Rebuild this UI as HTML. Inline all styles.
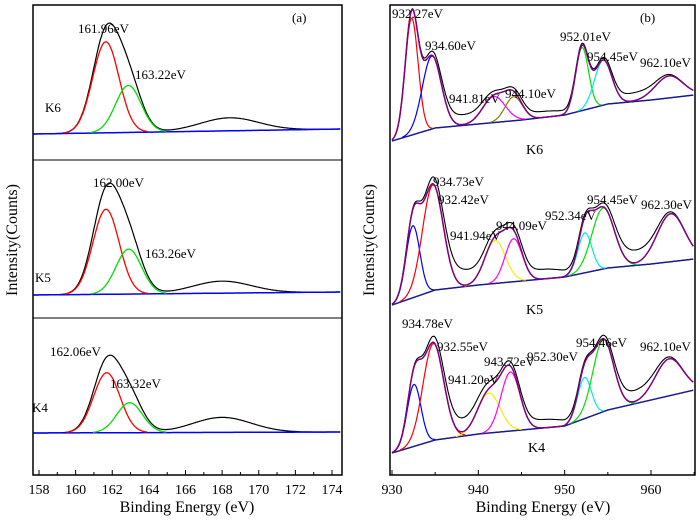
<!DOCTYPE html>
<html><head><meta charset="utf-8"><style>
body{margin:0;background:#fff}
svg text{font-family:"Liberation Serif",serif;fill:#000}
</style></head><body>
<svg id="c" width="700" height="521" viewBox="0 0 700 521" xmlns="http://www.w3.org/2000/svg">
<rect x="0" y="0" width="700" height="521" fill="#fff"/>
<rect x="33" y="5" width="309" height="470" fill="none" stroke="#000" stroke-width="1.5"/>
<line x1="33" y1="160" x2="342" y2="160" stroke="#000" stroke-width="1"/>
<line x1="33" y1="318" x2="342" y2="318" stroke="#000" stroke-width="1"/>
<rect x="390" y="5" width="305" height="470" fill="none" stroke="#000" stroke-width="1.5"/>
<g id="plot"></g>
<text x="187" y="512" font-size="16" text-anchor="middle">Binding Energy (eV)</text>
<text x="543" y="512" font-size="16" text-anchor="middle">Binding Energy (eV)</text>
<text transform="translate(17,240) rotate(-90)" font-size="16" text-anchor="middle">Intensity(Counts)</text>
<text transform="translate(374,240) rotate(-90)" font-size="16" text-anchor="middle">Intensity(Counts)</text>
<text x="292" y="22" font-size="13">(a)</text>
<text x="640" y="22" font-size="13">(b)</text>
<g font-size="13">
<text x="78" y="33">161.96eV</text><text x="135" y="79">163.22eV</text><text x="45" y="112">K6</text>
<text x="93" y="187">162.00eV</text><text x="145" y="258">163.26eV</text><text x="35" y="282">K5</text>
<text x="50" y="356">162.06eV</text><text x="110" y="388">163.32eV</text><text x="32" y="412">K4</text>
<text x="392" y="18">932.27eV</text><text x="425" y="50">934.60eV</text><text x="449" y="103">941.81eV</text><text x="505" y="98">944.10eV</text>
<text x="560" y="41">952.01eV</text><text x="587" y="61">954.45eV</text><text x="640" y="67">962.10eV</text><text x="526" y="154" font-size="14">K6</text>
<text x="433" y="186">934.73eV</text><text x="438" y="204">932.42eV</text><text x="450" y="240">941.94eV</text><text x="496" y="230">944.09eV</text>
<text x="545" y="220">952.34eV</text><text x="587" y="204">954.45eV</text><text x="641" y="209">962.30eV</text><text x="526" y="314" font-size="14">K5</text>
<text x="402" y="328">934.78eV</text><text x="437" y="351">932.55eV</text><text x="448" y="384">941.20eV</text><text x="484" y="366">943.72eV</text>
<text x="527" y="361">952.30eV</text><text x="576" y="347">954.46eV</text><text x="640" y="351">962.10eV</text><text x="528" y="452" font-size="14">K4</text>
</g>
</svg>
<script>
// ---------- data ----------
const ticksA = [158,160,162,164,166,168,170,172,174];
const ticksB = [930,940,950,960];
// panel (a): S 2p; values are counts above axis bottom (peak positions as drawn on the axis)
const aNames = ['K6','K5','K4'];
const aBaseL = [341,180,42];
const aBaseR = [346,183,43];
const aRedPos = [161.65,161.66,161.7];
const aRedAmp = [91,85,60];
const aGreenPos = [162.88,162.9,162.95];
const aGreenAmp = [47,45,30];
const aBlackScale = [1.06,1.15,1.15];
const aBumpAmp = [13,12,15];
const aBumpPos = [168.4,168.0,168.0];
// panel (b): Cu 2p
const bNames = ['K6','K5','K4'];
const bBaseE = [930,935,940,945,950,955,960,965];
const bBaseK6 = [334,347,351,355,360,371,375,380];
const bBaseK5 = [170,185,190,194,198,207,211,216];
const bBaseK4 = [22,35,41,45,49,65,75,85];
const bPeakPos = [[932.27,934.60,941.81,944.10,952.01,954.45,962.10],[932.42,934.73,941.94,944.09,952.34,954.45,962.30],[932.55,934.78,941.20,943.72,952.30,954.46,962.10]];
const bPeakAmp = [[117,73,26,24,63,45,22],[72,106,43,43,40,61,48],[62,97,40,59,41,72,37]];
const bPeakSig = [[0.75,1.1,1.3,1.0,0.75,1.0,1.6],[0.8,1.2,1.2,1.0,0.8,1.3,1.6],[0.8,1.2,1.3,1.1,0.8,1.2,1.6]];
const bPeakColor = [['#ff0000','#0000ff','#ff00ff','#808000','#00e000','#00e8e8','#800080'],['#0000ff','#ff0000','#f0f000','#ff00ff','#00e8e8','#00e000','#800080'],['#0000ff','#ff0000','#f0f000','#ff00ff','#00e8e8','#00e000','#800080']];
const bValleyExtra = [10,16,14];
// ---------- scales ----------
const xA = e => 39 + (e-158)*(293/16);
const xB = e => 392 + (e-930)*(259/30);
const yS = v => 475 - v;
const NS='http://www.w3.org/2000/svg';
const g=document.getElementById('plot');
function gauss(x,m,s){return Math.exp(-0.5*((x-m)/s)**2);}
function path(pts,color,w,name){
  const p=document.createElementNS(NS,'path');
  p.setAttribute('d','M'+pts.map(q=>q[0].toFixed(1)+','+q[1].toFixed(1)).join('L'));
  p.setAttribute('fill','none');p.setAttribute('stroke',color);p.setAttribute('stroke-width',w);
  
  
  g.appendChild(p);
}
function interp(xs,ys,x){for(let i=0;i<xs.length-1;i++){if(x<=xs[i+1]){const t=(x-xs[i])/(xs[i+1]-xs[i]);return ys[i]+t*(ys[i+1]-ys[i]);}}return ys[ys.length-1];}
// panel a
for(let k=0;k<3;k++){
  const base=e=>aBaseL[k]+(aBaseR[k]-aBaseL[k])*(e-157.7)/(174.5-157.7);
  const red=[],grn=[],blk=[],bl=[];
  for(let e=157.7;e<=174.5;e+=0.05){
    const b=base(e),r=aRedAmp[k]*gauss(e,aRedPos[k],0.72),gg=aGreenAmp[k]*gauss(e,aGreenPos[k],0.7);
    bl.push([xA(e),yS(b)]);
    if(r>0.5)red.push([xA(e),yS(b+r)]);
    if(gg>0.5)grn.push([xA(e),yS(b+gg)]);
    blk.push([xA(e),yS(b+(r+gg)*aBlackScale[k]+aBumpAmp[k]*gauss(e,aBumpPos[k],1.6))]);
  }
  path(blk,'#000',1.2,'spectrum-a-'+aNames[k]);
  path(bl,'#0000ff',1.5,'baseline-a-'+aNames[k]);
  path(red,'#ff0000',1.3,'fit-a-'+aNames[k]+'-red');
  path(grn,'#00e000',1.3,'fit-a-'+aNames[k]+'-green');
}
// panel b
const bBases=[bBaseK6,bBaseK5,bBaseK4];
for(let k=0;k<3;k++){
  const base=e=>interp(bBaseE,bBases[k],e);
  const comps=bPeakPos[k].map(()=>[]),env=[],blk=[],bl=[];
  for(let e=930;e<=965;e+=0.1){
    const b=base(e);let s=0;
    bl.push([xB(e),yS(b)]);
    bPeakPos[k].forEach((m,i)=>{const v=bPeakAmp[k][i]*gauss(e,m,bPeakSig[k][i]);s+=v;if(v>0.5&&i<6)comps[i].push([xB(e),yS(b+v)]);});
    env.push([xB(e),yS(b+s)]);
    const extra=bValleyExtra[k]*(gauss(e,938,2.5)+0.6*gauss(e,947.5,2.8)+0.8*gauss(e,958,2.2));
    blk.push([xB(e),yS(b+s+extra)]);
  }
  path(bl,'#1a1a8c',1.5,'baseline-b-'+bNames[k]);
  comps.forEach((c,i)=>path(c,bPeakColor[k][i],1.2,'fit-b-'+bNames[k]+'-peak-'+i));
  path(blk,'#000',1.1,'spectrum-b-'+bNames[k]);
  path(env,'#800080',1.5,'envelope-b-'+bNames[k]);
}
// ticks
function tick(x,y1,y2,name){const l=document.createElementNS(NS,'line');l.setAttribute('x1',x);l.setAttribute('x2',x);l.setAttribute('y1',y1);l.setAttribute('y2',y2);l.setAttribute('stroke','#000');


g.appendChild(l);}
function label(x,t,name){const e=document.createElementNS(NS,'text');e.setAttribute('x',x);e.setAttribute('y',494);e.setAttribute('font-size','14');e.setAttribute('text-anchor','middle');e.textContent=t;


g.appendChild(e);}
ticksA.forEach(v=>{tick(xA(v),475,470,'x-tick-a');label(xA(v),v,'x-tick-label-a');if(v<174)tick(xA(v+1),475,472,'x-minor-tick-a');});
ticksB.forEach(v=>{tick(xB(v),475,470,'x-tick-b');label(xB(v),v,'x-tick-label-b');tick(xB(v+5),475,472,'x-minor-tick-b');});
</script>
</body></html>
